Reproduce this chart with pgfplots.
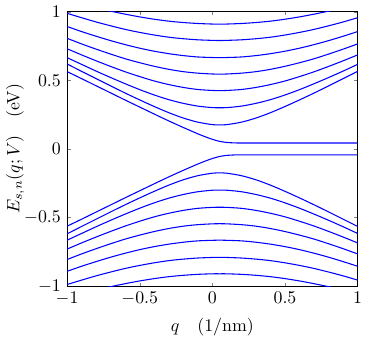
\documentclass[border=0pt]{standalone}
\usepackage{pgfplots}
\usepackage{pgfplotstable}
\pgfplotsset{compat=1.18}

% upper bands (E > 0)
\pgfplotstableread{
q     u1    u2    u3    u4    u5    u6    u7
-1.0  0.619 0.665 0.730 0.806 0.892 0.988 1.087
-0.9  0.565 0.616 0.685 0.765 0.855 0.956 1.057
-0.8  0.512 0.567 0.642 0.727 0.821 0.925 1.029
-0.7  0.459 0.520 0.601 0.691 0.789 0.897 1.004
-0.6  0.407 0.475 0.562 0.657 0.760 0.871 0.982
-0.5  0.357 0.432 0.527 0.628 0.734 0.849 0.962
-0.4  0.309 0.393 0.495 0.602 0.712 0.830 0.945
-0.3  0.264 0.359 0.469 0.580 0.694 0.814 0.931
-0.2  0.225 0.332 0.448 0.563 0.680 0.803 0.921
-0.1  0.195 0.312 0.433 0.552 0.670 0.795 0.914
0.0   0.177 0.301 0.426 0.546 0.666 0.791 0.910
0.05  0.175 0.300 0.425 0.545 0.665 0.790 0.910
0.1   0.177 0.301 0.426 0.546 0.666 0.791 0.910
0.2   0.195 0.312 0.433 0.552 0.670 0.795 0.914
0.3   0.225 0.332 0.448 0.563 0.680 0.803 0.921
0.4   0.264 0.359 0.469 0.580 0.694 0.814 0.931
0.5   0.309 0.393 0.495 0.602 0.712 0.830 0.945
0.6   0.357 0.432 0.527 0.628 0.734 0.849 0.962
0.7   0.407 0.475 0.562 0.657 0.760 0.871 0.982
0.8   0.459 0.520 0.601 0.691 0.789 0.897 1.004
0.9   0.512 0.567 0.642 0.727 0.821 0.925 1.029
1.0   0.565 0.616 0.685 0.765 0.855 0.956 1.057
}\upperbands

% lower bands (E < 0)
\pgfplotstableread{
q     l1     l2     l3     l4     l5     l6     l7
-1.0  -0.619 -0.665 -0.730 -0.806 -0.892 -0.988 -1.087
-0.9  -0.565 -0.616 -0.685 -0.765 -0.855 -0.956 -1.057
-0.8  -0.512 -0.567 -0.642 -0.727 -0.821 -0.925 -1.029
-0.7  -0.459 -0.520 -0.601 -0.691 -0.789 -0.897 -1.004
-0.6  -0.407 -0.475 -0.562 -0.657 -0.760 -0.871 -0.982
-0.5  -0.357 -0.432 -0.527 -0.628 -0.734 -0.849 -0.962
-0.4  -0.309 -0.393 -0.495 -0.602 -0.712 -0.830 -0.945
-0.3  -0.264 -0.359 -0.469 -0.580 -0.694 -0.814 -0.931
-0.2  -0.225 -0.332 -0.448 -0.563 -0.680 -0.803 -0.921
-0.1  -0.195 -0.312 -0.433 -0.552 -0.670 -0.795 -0.914
0.0   -0.177 -0.301 -0.426 -0.546 -0.666 -0.791 -0.910
0.05  -0.175 -0.300 -0.425 -0.545 -0.665 -0.790 -0.910
0.1   -0.177 -0.301 -0.426 -0.546 -0.666 -0.791 -0.910
0.2   -0.195 -0.312 -0.433 -0.552 -0.670 -0.795 -0.914
0.3   -0.225 -0.332 -0.448 -0.563 -0.680 -0.803 -0.921
0.4   -0.264 -0.359 -0.469 -0.580 -0.694 -0.814 -0.931
0.5   -0.309 -0.393 -0.495 -0.602 -0.712 -0.830 -0.945
0.6   -0.357 -0.432 -0.527 -0.628 -0.734 -0.849 -0.962
0.7   -0.407 -0.475 -0.562 -0.657 -0.760 -0.871 -0.982
0.8   -0.459 -0.520 -0.601 -0.691 -0.789 -0.897 -1.004
0.9   -0.512 -0.567 -0.642 -0.727 -0.821 -0.925 -1.029
1.0   -0.565 -0.616 -0.685 -0.765 -0.855 -0.956 -1.057
}\lowerbands

% the two bands that go flat near E = 0
\pgfplotstableread{
q      f      g
-1.0   0.563  -0.563
-0.9   0.512  -0.512
-0.8   0.460  -0.460
-0.7   0.408  -0.408
-0.6   0.356  -0.356
-0.5   0.305  -0.305
-0.4   0.254  -0.254
-0.3   0.204  -0.204
-0.2   0.156  -0.156
-0.15  0.133  -0.133
-0.1   0.110  -0.110
-0.05  0.089  -0.089
0.0    0.070  -0.070
0.05   0.055  -0.055
0.1    0.047  -0.047
0.15   0.044  -0.044
0.2    0.043  -0.043
0.4    0.043  -0.043
0.6    0.043  -0.043
0.8    0.043  -0.043
1.0    0.043  -0.043
}\flatbands

\begin{document}
\begin{tikzpicture}
\begin{axis}[
    scale only axis,
    width=163pt, height=154pt,
    xmin=-1, xmax=1, ymin=-1, ymax=1,
    xtick={-1,-0.5,0,0.5,1},
    ytick={-1,-0.5,0,0.5,1},
    tick align=inside,
    major tick length=2pt,
    axis line style={line width=0.4pt},
    xlabel={$q$\quad(1/nm)},
    ylabel={$E_{s,n}(q;V)$\quad(eV)},
    ylabel style={yshift=-7pt},
]
\foreach \c in {u1,u2,u3,u4,u5,u6,u7} {
    \addplot[blue, line width=0.6pt, smooth] table[x=q, y=\c] {\upperbands};
}
\foreach \c in {l1,l2,l3,l4,l5,l6,l7} {
    \addplot[blue, line width=0.6pt, smooth] table[x=q, y=\c] {\lowerbands};
}
\addplot[blue, line width=0.6pt, smooth] table[x=q, y=f] {\flatbands};
\addplot[blue, line width=0.6pt, smooth] table[x=q, y=g] {\flatbands};
\end{axis}
% margin above and to the right, as in the reference
\path (current axis.north east) ++(4.5pt,6pt);
\end{tikzpicture}
\end{document}
